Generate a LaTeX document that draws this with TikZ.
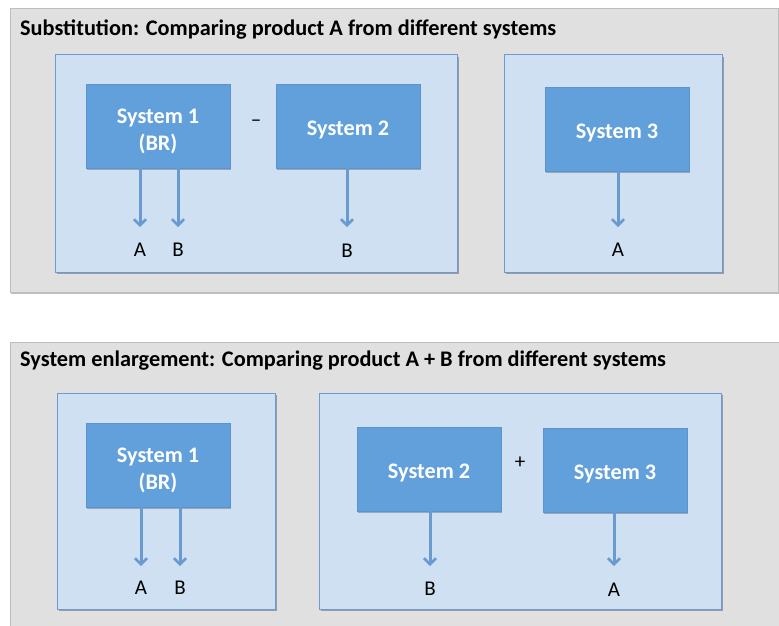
\documentclass[tikz,border=0pt]{standalone}
\usepackage{fontspec}
\setmainfont{Carlito}
\usetikzlibrary{arrows.meta,shadows}
\definecolor{panelfill}{HTML}{E0E0E0}
\definecolor{paneldraw}{HTML}{BDBDBD}
\definecolor{innerfill}{HTML}{CFE0F2}
\definecolor{innerdraw}{HTML}{6C9BD2}
\definecolor{sysfill}{HTML}{62A0DC}
\definecolor{sysdraw}{HTML}{5A93CE}
\definecolor{arrcol}{HTML}{6A9BD0}
\tikzset{
  panel/.style={fill=panelfill,draw=paneldraw,line width=1pt,
    drop shadow={shadow xshift=1pt,shadow yshift=-2pt,opacity=0.25,fill=black}},
  inner/.style={fill=innerfill,draw=innerdraw,line width=1pt,
    drop shadow={shadow xshift=1.5pt,shadow yshift=-2pt,opacity=0.3,fill=black}},
  sysfont/.style={text=white,font=\fontsize{22.2}{27}\selectfont\bfseries},
  sysbox/.style={rectangle,fill=sysfill,draw=sysdraw,line width=0.8pt,
    minimum width=144pt,minimum height=84pt,inner sep=0pt,sysfont,
    drop shadow={shadow xshift=1pt,shadow yshift=-1.5pt,opacity=0.25,fill=black}},
  sysone/.style={sysbox,execute at begin node={\rule{0pt}{23pt}}},
  systwo/.style={sysbox,label={[sysfont,align=center,inner sep=0pt,yshift=-5pt]center:#1}},
  title/.style={anchor=base west,inner sep=0pt,font=\fontsize{22.3}{26}\selectfont\bfseries},
  prod/.style={inner sep=0pt,font=\fontsize{21}{24}\selectfont},
  op/.style={inner sep=0pt,font=\fontsize{21}{24}\selectfont},
  arr/.style={draw=arrcol,line width=3pt,-{Straight Barb[length=6pt,width=12pt,line width=2.6pt]}},
}
\begin{document}
\begin{tikzpicture}[x=1pt,y=-1pt]
\useasboundingbox (0,0) rectangle (779,626);
\fill[white] (0,0) rectangle (779,626);
% panels
\draw[panel] (10,9) rectangle (778,292);
\draw[panel] (10,342) rectangle (790,640);
\node[title] (t1) at (20,36) {Substitution: Comparing product A from different systems};
\node[title] (t2) at (20,366) {System enlargement: Comparing product A + B from different systems};
% inner boxes
\draw[inner] (55,55) rectangle (457,272);
\draw[inner] (504,55) rectangle (722,272);
\draw[inner] (57,393) rectangle (275,609);
\draw[inner] (319,393) rectangle (721,609);
% top systems
\node[systwo={System 1\\(BR)}] (s1) at (158,126) {};
\node[sysone] (s2) at (348,126) {System 2};
\node[sysone] (s3) at (617,129) {System 3};
\node[op] (minus) at (256,123) {–};
\node[prod] (a1) at (140,250) {A};
\node[prod] (b1) at (178,250) {B};
\node[prod] (b2) at (347,251) {B};
\node[prod] (a3) at (618,250) {A};
\draw[arr] (s1.south -| a1) -- ([yshift=16pt]a1.north);
\draw[arr] (s1.south -| b1) -- ([yshift=16pt]b1.north);
\draw[arr] (s2.south -| b2) -- ([yshift=17pt]b2.north);
\draw[arr] (s3.south -| a3) -- ([yshift=16pt]a3.north);
% bottom systems
\node[systwo={System 1\\(BR)}] (u1) at (158,465) {};
\node[sysone] (u2) at (429,469) {System 2};
\node[sysone] (u3) at (615,470) {System 3};
\node[op] (plus) at (520,463) {+};
\node[prod] (c1) at (141,588) {A};
\node[prod] (d1) at (180,588) {B};
\node[prod] (d2) at (430,589) {B};
\node[prod] (c3) at (614,590) {A};
\draw[arr] (u1.south -| c1) -- ([yshift=15pt]c1.north);
\draw[arr] (u1.south -| d1) -- ([yshift=15pt]d1.north);
\draw[arr] (u2.south -| d2) -- ([yshift=16pt]d2.north);
\draw[arr] (u3.south -| c3) -- ([yshift=17pt]c3.north);
\end{tikzpicture}
\end{document}
